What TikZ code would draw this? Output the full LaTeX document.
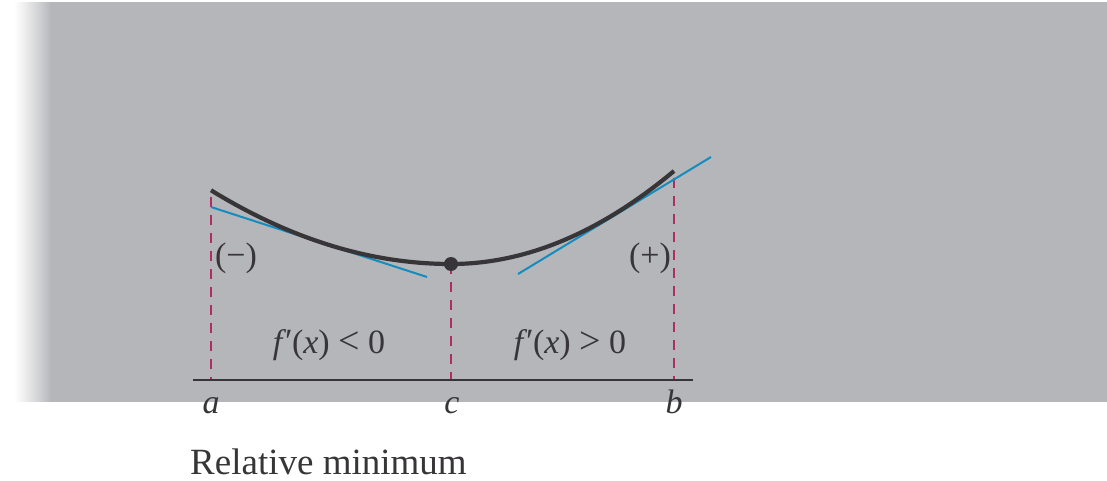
\documentclass[tikz,border=0pt]{standalone}
\usepackage{fontspec}
\setmainfont{Liberation Serif}
\begin{document}
\begin{tikzpicture}[x=1pt,y=-1pt,
  txt/.style={text=ink, inner sep=0pt, font=\fontsize{34}{38}\selectfont},
  dashline/.style={draw=rose, line width=2.4pt, dash pattern=on 10pt off 8pt},
  tangent/.style={draw=tblue, line width=2pt},
  curveline/.style={draw=ink, line width=4.2pt},
  axisline/.style={draw=ink, line width=2pt}]
\definecolor{bg}{RGB}{181,182,186}
\definecolor{ink}{RGB}{55,53,55}
\definecolor{rose}{RGB}{176,44,100}
\definecolor{tblue}{RGB}{20,140,190}
\useasboundingbox (0,0) rectangle (1107,481);
\fill[white] (0,0) rectangle (1107,481);
\fill[bg] (52,2) rectangle (1107,402);
\foreach \i in {0,...,38} {
  \pgfmathsetmacro\p{100*(\i/38)^1.2}
  \fill[bg!\p!white] (13+\i,2) rectangle (14.3+\i,402);
}
% coordinates
\coordinate (A) at (211,380);
\coordinate (C) at (451,380);
\coordinate (B) at (674,380);
\coordinate (Atop) at (211,197);
\coordinate (Ctop) at (451,264);
\coordinate (Btop) at (674,178);
\coordinate (AxL) at (193,380);
\coordinate (AxR) at (693,380);
\coordinate (T1s) at (211,207);
\coordinate (T1e) at (427,277);
\coordinate (T2s) at (518,274);
\coordinate (T2e) at (711,157);
% dashed verticals
\draw[dashline] (Atop) -- (A);
\draw[dashline] (Ctop) -- (C);
\draw[dashline] (Btop) -- (B);
% axis
\draw[axisline] (AxL) -- (AxR);
% tangents
\draw[tangent] (T1s) -- (T1e);
\draw[tangent] (T2s) -- (T2e);
% curve
\draw[curveline, line cap=butt] plot[domain=211:451, samples=60, smooth] (\x, {264-12.8*((\x-451)/100)^2})
  -- plot[domain=451:674, samples=60, smooth] (\x, {264-18.7*((\x-451)/100)^2});
\node[circle, fill=ink, inner sep=0pt, minimum size=14pt] (min) at (451,264) {};
% labels
\node[txt] (neg) at (236,258) {(−)};
\node[txt] (pos) at (650,258) {(+)};
\node[txt] (lt) at (329,345) {\textit{f\kern1pt}\raisebox{1pt}{\textit{′}}\kern1pt(\textit{x}) {\fontsize{38}{38}\selectfont<} 0};
\node[txt] (gt) at (570,345) {\textit{f\kern1pt}\raisebox{1pt}{\textit{′}}\kern1pt(\textit{x}) {\fontsize{38}{38}\selectfont>} 0};
\node[txt, anchor=base] (la) at (211,413) {\textit{a}};
\node[txt, anchor=base] (lc) at (452,413) {\textit{c}};
\node[txt, anchor=base] (lb) at (674,413) {\textit{b}};
\node[txt, anchor=base west, font=\fontsize{37}{40}\selectfont] (title) at (190,474) {Relative minimum};
\end{tikzpicture}
\end{document}
